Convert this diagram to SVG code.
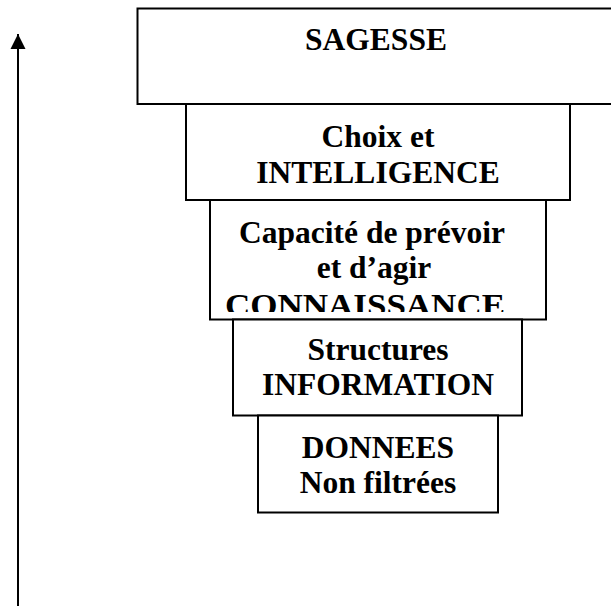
<svg xmlns="http://www.w3.org/2000/svg" width="611" height="606" viewBox="0 0 611 606">
<style>
.box{fill:#fff;stroke:#000;stroke-width:2}
.t{font-family:"Liberation Serif","Times New Roman",serif;font-weight:bold;font-size:31.5px;fill:#000;text-anchor:middle}
.conn{stroke:#000;stroke-width:2;fill:none}
</style>
<defs>
<marker id="ah" markerUnits="userSpaceOnUse" markerWidth="16" markerHeight="16" viewBox="0 0 16 16" refX="15" refY="8" orient="auto">
<path d="M0,0.5 L15,8 L0,15.5 Z" fill="#000"/>
</marker>
<clipPath id="clip3"><rect x="210" y="200" width="336" height="112"/></clipPath>
</defs>
<g id="connectors">
<line class="conn" x1="18" y1="606" x2="18" y2="34" marker-end="url(#ah)"/>
</g>
<g id="sagesse">
<rect class="box" x="137.5" y="8.5" width="480" height="95.5"/>
<text class="t" x="376" y="50">SAGESSE</text>
</g>
<g id="intelligence">
<rect class="box" x="186" y="104" width="384" height="96"/>
<text class="t" x="378" y="147">Choix et</text>
<text class="t" x="378" y="183">INTELLIGENCE</text>
</g>
<g id="connaissance">
<rect class="box" x="210" y="200" width="336" height="119.5"/>
<g clip-path="url(#clip3)">
<text class="t" x="372" y="243">Capacité de prévoir</text>
<text class="t" x="374" y="278">et d’agir</text>
<text class="t" x="365" y="316" textLength="280" lengthAdjust="spacingAndGlyphs">CONNAISSANCE</text>
</g>
</g>
<g id="information">
<rect class="box" x="233" y="319.5" width="289" height="96"/>
<text class="t" x="378" y="360">Structures</text>
<text class="t" x="378" y="395">INFORMATION</text>
</g>
<g id="donnees">
<rect class="box" x="258" y="415.5" width="240" height="97"/>
<text class="t" x="378" y="458">DONNEES</text>
<text class="t" x="378" y="493">Non filtrées</text>
</g>
</svg>
